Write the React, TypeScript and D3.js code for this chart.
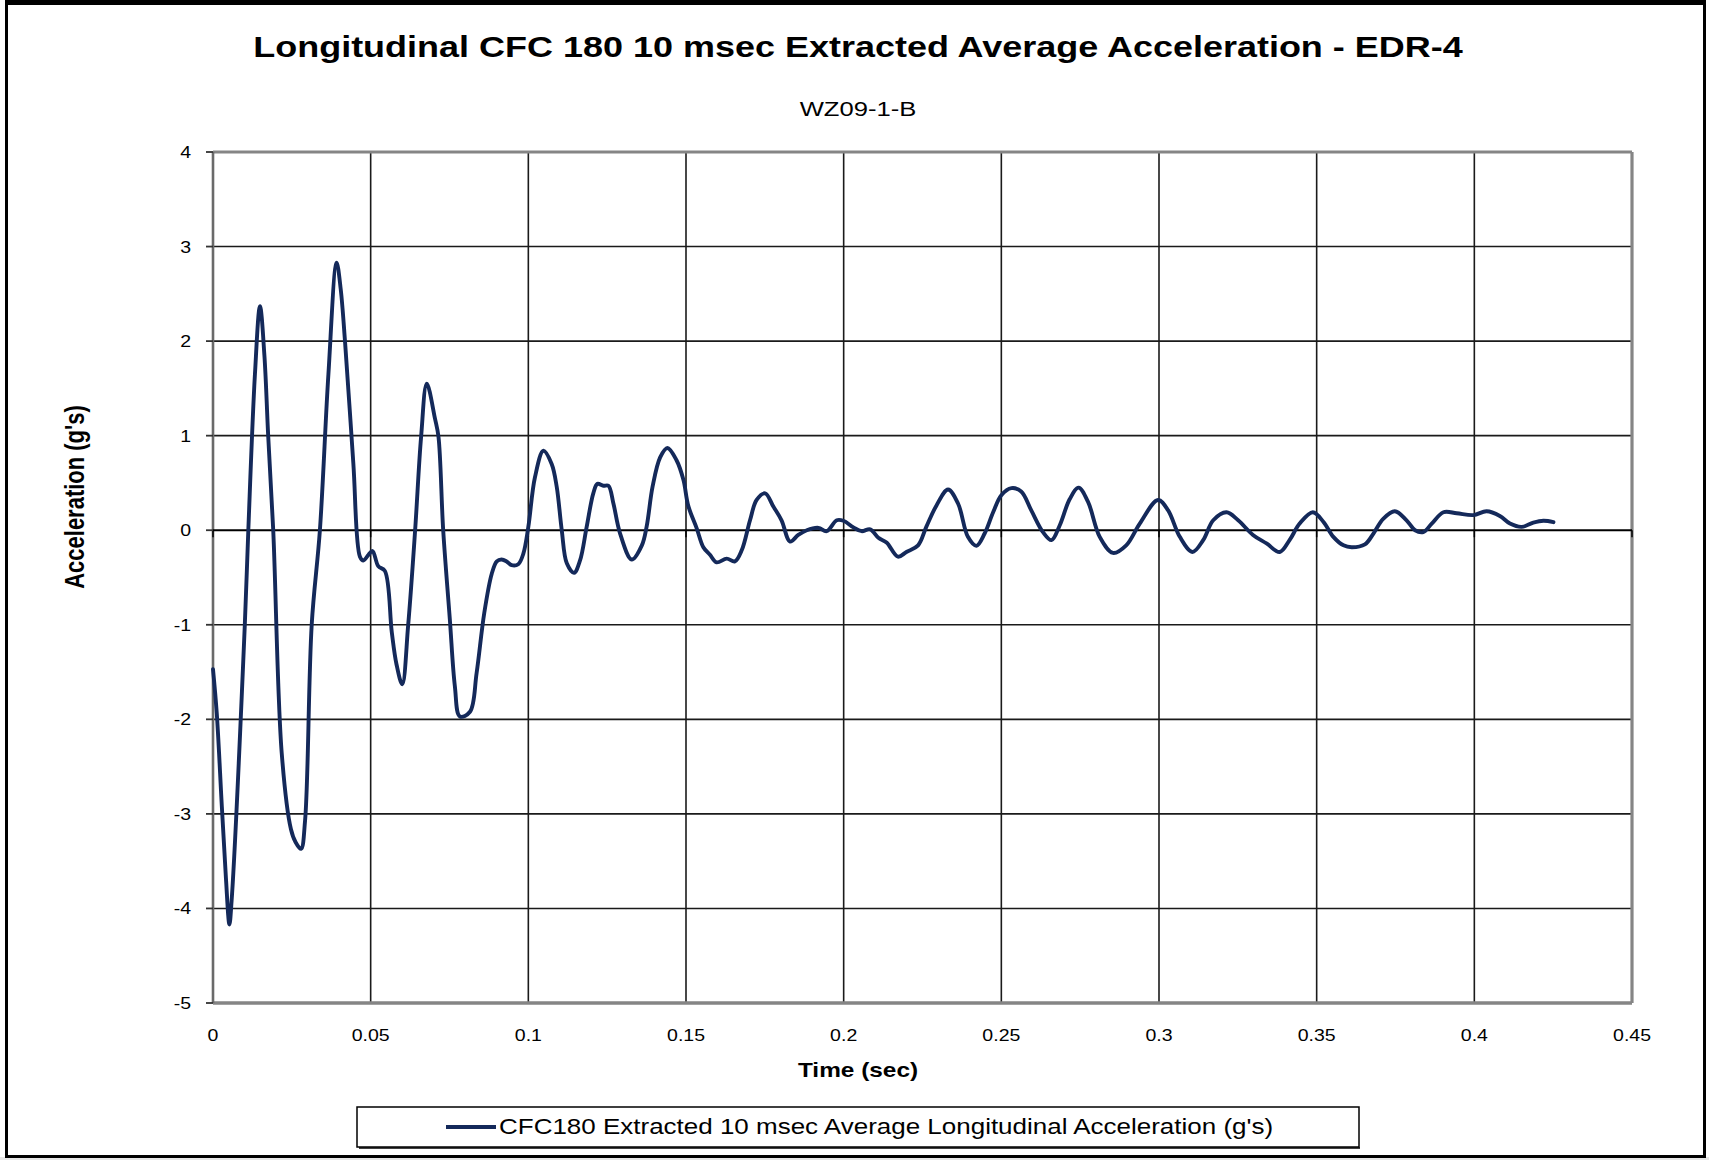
import React from "react";
import * as d3 from "d3";

const timeSec: number[] = [
  0.0, 0.0012, 0.0028, 0.0041, 0.0052, 0.0059, 0.0101, 0.0112, 0.0133, 0.0149,
  0.0163, 0.0175, 0.0191, 0.0218, 0.0247, 0.0262, 0.0279, 0.0292, 0.0313, 0.0339,
  0.0366, 0.0392, 0.0405, 0.0419, 0.0445, 0.0466, 0.0477, 0.0493, 0.0506, 0.0524,
  0.0545, 0.0567, 0.0582, 0.06, 0.0619, 0.0641, 0.066, 0.0678, 0.0704, 0.0715,
  0.073, 0.0751, 0.0767, 0.0783, 0.0815, 0.0836, 0.086, 0.0884, 0.09, 0.0915,
  0.0931, 0.0947, 0.0968, 0.0984, 0.1, 0.1021, 0.1048, 0.1074, 0.109, 0.1106,
  0.1122, 0.1145, 0.1164, 0.1185, 0.1206, 0.1219, 0.1238, 0.1254, 0.127, 0.1291,
  0.1328, 0.136, 0.1375, 0.1394, 0.1418, 0.1441, 0.147, 0.1492, 0.1507, 0.1534,
  0.1555, 0.1576, 0.1597, 0.1629, 0.1655, 0.1677, 0.1703, 0.1724, 0.1751, 0.1777,
  0.1803, 0.183, 0.1856, 0.1883, 0.192, 0.1946, 0.1978, 0.1999, 0.2031, 0.2057,
  0.2084, 0.211, 0.2136, 0.2172, 0.2199, 0.2236, 0.2262, 0.2294, 0.2331, 0.2363,
  0.2394, 0.2421, 0.2447, 0.2474, 0.25, 0.2532, 0.2563, 0.2595, 0.2632, 0.2659,
  0.2685, 0.2717, 0.2745, 0.2775, 0.2812, 0.2854, 0.2896, 0.2939, 0.2997, 0.3029,
  0.3066, 0.3106, 0.314, 0.3172, 0.3214, 0.3251, 0.3298, 0.3341, 0.3383, 0.3414,
  0.3446, 0.3488, 0.3521, 0.3553, 0.3585, 0.3611, 0.3653, 0.368, 0.3711, 0.3748,
  0.3785, 0.3812, 0.3838, 0.3865, 0.3902, 0.3944, 0.3997, 0.4039, 0.4081, 0.4113,
  0.415, 0.4187, 0.4219, 0.4251,
];

const accelG: number[] = [
  -1.47, -1.94, -2.92, -3.68, -4.17, -3.92, -0.99, 0.0, 1.65, 2.37,
  1.85, 1.0, 0.0, -2.36, -3.16, -3.3, -3.37, -3.07, -1.0, 0.0,
  1.65, 2.83, 2.55, 1.98, 0.71, -0.28, -0.32, -0.26, -0.22, -0.38,
  -0.43, -1.08, -1.42, -1.63, -1.0, 0.0, 0.99, 1.55, 1.18, 0.99,
  0.0, -0.94, -1.65, -1.97, -1.92, -1.51, -0.88, -0.46, -0.33, -0.31,
  -0.33, -0.37, -0.36, -0.25, 0.035, 0.56, 0.84, 0.7, 0.46, 0.0,
  -0.35, -0.45, -0.32, 0.035, 0.39, 0.49, 0.47, 0.47, 0.28, -0.035,
  -0.31, -0.16, 0.035, 0.46, 0.77, 0.87, 0.74, 0.53, 0.26, 0.02,
  -0.18, -0.26, -0.34, -0.3, -0.33, -0.21, 0.105, 0.32, 0.39, 0.25,
  0.105, -0.12, -0.05, 0.0, 0.025, -0.01, 0.105, 0.1, 0.03, -0.01,
  0.01, -0.08, -0.13, -0.28, -0.23, -0.16, 0.035, 0.26, 0.43, 0.28,
  -0.07, -0.165, -0.035, 0.19, 0.37, 0.445, 0.41, 0.21, -0.02, -0.105,
  0.05, 0.33, 0.45, 0.3, -0.07, -0.24, -0.16, 0.07, 0.32, 0.21,
  -0.07, -0.23, -0.105, 0.105, 0.19, 0.105, -0.05, -0.14, -0.23, -0.105,
  0.07, 0.19, 0.09, -0.07, -0.16, -0.18, -0.15, -0.035, 0.12, 0.2,
  0.105, 0.0, -0.02, 0.07, 0.19, 0.18, 0.16, 0.2, 0.15, 0.07,
  0.035, 0.08, 0.1, 0.085,
];

const xTicks: number[] = [0, 0.05, 0.1, 0.15, 0.2, 0.25, 0.3, 0.35, 0.4, 0.45];
const xTickLabels: string[] = ["0", "0.05", "0.1", "0.15", "0.2", "0.25", "0.3", "0.35", "0.4", "0.45"];
const yTicks: number[] = [-5, -4, -3, -2, -1, 0, 1, 2, 3, 4];

const titleText = "Longitudinal CFC 180 10 msec Extracted Average Acceleration - EDR-4";
const subtitleText = "WZ09-1-B";
const xAxisTitle = "Time (sec)";
const yAxisTitle = "Acceleration (g's)";
const seriesName = "CFC180 Extracted 10 msec Average Longitudinal Acceleration (g's)";

const W = 1709;
const H = 1160;
const SX = 1.22;
const FONT = "'Liberation Sans', Arial, Helvetica, sans-serif";
const LINE_COLOR = "#14295a";

type TProps = {
  x: number;
  y: number;
  size: number;
  anchor?: "start" | "middle" | "end";
  weight?: string;
  rotate?: boolean;
  children: React.ReactNode;
};

function T({ x, y, size, anchor = "middle", weight = "normal", rotate = false, children }: TProps) {
  return (
    <text
      transform={`translate(${x},${y}) scale(${SX},1)${rotate ? " rotate(-90)" : ""}`}
      textAnchor={anchor}
      fontSize={size}
      fontWeight={weight}
      fontFamily={FONT}
      fill="#000"
    >
      {children}
    </text>
  );
}

export default function App() {
  const left = 213;
  const right = 1632;
  const top = 152;
  const bottom = 1003;

  const x = d3.scaleLinear().domain([0, 0.45]).range([left, right]);
  const y = d3.scaleLinear().domain([-5, 4]).range([bottom, top]);

  const pts: [number, number][] = timeSec.map((t, i) => [t, accelG[i]]);
  const line = d3
    .line<[number, number]>()
    .x((d) => x(d[0]))
    .y((d) => y(d[1]))
    .curve(d3.curveCatmullRom.alpha(0.5));

  return (
    <svg
      width={W}
      height={H}
      style={{ position: "absolute", left: 0, top: 0, background: "#fff" }}
    >
      <rect x={0} y={0} width={W} height={H} fill="#fff" />
      <rect x={0} y={1157} width={W} height={3} fill="#e6e6e6" />
      {/* outer frame */}
      <rect x={6.5} y={2.5} width={1698} height={1154} fill="none" stroke="#000" strokeWidth={3} />
      <rect x={5} y={0} width={1701} height={5} fill="#000" />

      <T x={858} y={57} size={29.5} weight="bold">{titleText}</T>
      <T x={858} y={116} size={21}>{subtitleText}</T>

      {/* gridlines */}
      {yTicks.filter((v) => v !== -5 && v !== 4 && v !== 0).map((v) => (
        <line key={"gy" + v} x1={left} x2={right} y1={y(v)} y2={y(v)} stroke="#1a1a1a" strokeWidth={1.6} />
      ))}
      {xTicks.filter((v) => v !== 0 && v !== 0.45).map((v) => (
        <line key={"gx" + v} x1={x(v)} x2={x(v)} y1={top} y2={bottom} stroke="#1a1a1a" strokeWidth={1.6} />
      ))}

      {/* plot border */}
      <line x1={left} x2={right} y1={top} y2={top} stroke="#858585" strokeWidth={3.2} />
      <line x1={right} x2={right} y1={top} y2={bottom} stroke="#858585" strokeWidth={3.2} />
      <line x1={left} x2={right} y1={bottom} y2={bottom} stroke="#858585" strokeWidth={3.5} />
      <line x1={left} x2={left} y1={top} y2={bottom} stroke="#6a6a6a" strokeWidth={2.6} />

      {/* zero axis */}
      <line x1={left} x2={right} y1={y(0)} y2={y(0)} stroke="#000" strokeWidth={2} />
      {xTicks.map((v) => (
        <line key={"xt" + v} x1={x(v)} x2={x(v)} y1={y(0)} y2={y(0) + 7} stroke="#000" strokeWidth={1.5} />
      ))}

      {/* y ticks */}
      {yTicks.map((v) => (
        <line key={"yt" + v} x1={left - 7} x2={left} y1={y(v)} y2={y(v)} stroke="#333" strokeWidth={1.8} />
      ))}
      {yTicks.map((v) => (
        <T key={"yl" + v} x={191} y={y(v) + 6} size={16} anchor="end">{String(v)}</T>
      ))}
      {xTicks.map((v, i) => (
        <T key={"xl" + v} x={x(v)} y={1041} size={16}>{xTickLabels[i]}</T>
      ))}

      {/* data */}
      <path d={line(pts) || ""} fill="none" stroke={LINE_COLOR} strokeWidth={3.9} strokeLinejoin="round" strokeLinecap="round" />

      <T x={858} y={1077} size={20} weight="bold">{xAxisTitle}</T>
      <T x={84} y={497} size={22} weight="bold" rotate>{yAxisTitle}</T>

      {/* legend */}
      <rect x={357} y={1107} width={1002} height={40} fill="#fff" stroke="#000" strokeWidth={1.5} />
      <line x1={359} x2={1360} y1={1148} y2={1148} stroke="#000" strokeWidth={1.5} />
      <line x1={446} x2={496} y1={1127} y2={1127} stroke={LINE_COLOR} strokeWidth={4} />
      <T x={499} y={1134} size={21.3} anchor="start">{seriesName}</T>
    </svg>
  );
}
